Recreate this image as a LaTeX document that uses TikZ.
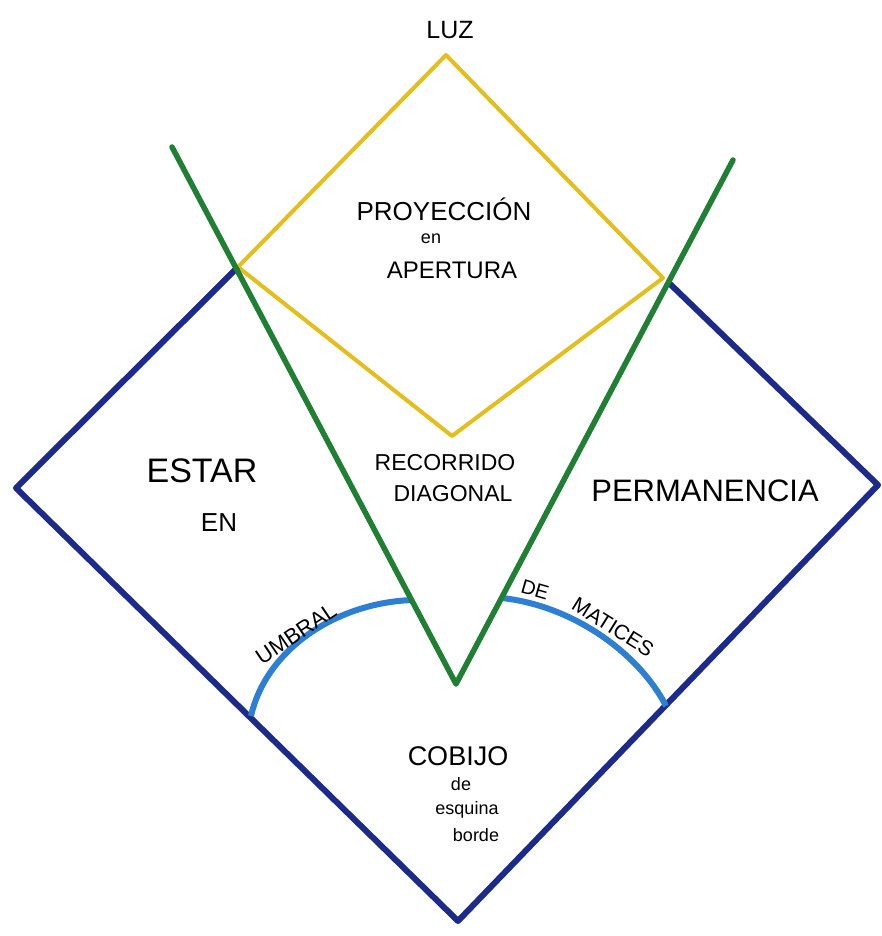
\documentclass[tikz,border=0pt]{standalone}
\usepackage{fontspec}
\setmainfont{Liberation Sans}

\definecolor{luzyellow}{HTML}{E6BE1C}
\definecolor{pathgreen}{HTML}{1F7F33}
\definecolor{wallblue}{HTML}{1C2A8C}
\definecolor{arcblue}{HTML}{2C7FD3}

\begin{document}
\begin{tikzpicture}[
        x=1pt, y=-1pt,
        lbl/.style={inner sep=0pt, align=center, font=\fontsize{#1}{#1}\selectfont},
        lbl/.default=24pt,
        luzline/.style={draw=luzyellow, line width=4pt, line join=round},
        wallline/.style={draw=wallblue, line width=6pt, line join=round},
        arcline/.style={draw=arcblue, line width=6pt},
        vline/.style={draw=pathgreen, line width=5.5pt, line join=round, line cap=round}
    ]

    \fill[white] (0,0) rectangle (882,936);
    \useasboundingbox (0,0) rectangle (882,936);

    % corners
    \coordinate (ltop) at (446,55);
    \coordinate (lright) at (663,278);
    \coordinate (lbottom) at (452,436);
    \coordinate (lleft) at (238,267);

    \coordinate (wleft) at (16,488);
    \coordinate (wbottom) at (458,921);
    \coordinate (wright) at (878,485);
    \coordinate (wtopr) at (668,282);

    \coordinate (vleft) at (172,147);
    \coordinate (vbottom) at (456,684);
    \coordinate (vright) at (733,160);

    % light diamond
    \draw[luzline] (ltop) -- (lright) -- (lbottom) -- (lleft) -- cycle;

    % shelter walls
    \draw[wallline] (lleft) -- (wleft) -- (wbottom) -- (wright) -- (wtopr);

    % threshold arcs
    \draw[arcline] (251,716) .. controls (266,650) and (335,603) .. (412,600);
    \draw[arcline] (502,598) .. controls (575,606) and (640,655) .. (666,706);

    % diagonal route
    \draw[vline] (vleft) -- (vbottom) -- (vright);

    % labels
    \node (luz) [lbl=25pt] at (450,30) {LUZ};
    \node (proy) [lbl=26pt] at (444,209) {PROYECCIÓN};
    \node (proyen) [lbl=18pt] at (431,239) {en};
    \node (aper) [lbl=24pt] at (452,270) {APERTURA};

    \node (estar) [lbl=34pt] at (202,471) {ESTAR};
    \node (estaren) [lbl=26pt] at (219,523) {EN};

    \node (reco) [lbl=23pt] at (445,463) {RECORRIDO};
    \node (diag) [lbl=23pt] at (453,494) {DIAGONAL};

    \node (perm) [lbl=31pt] at (705,491) {PERMANENCIA};

    \node (cobijo) [lbl=27pt] at (458,756) {COBIJO};
    \node (cobde) [lbl=18pt] at (461,784) {de};
    \node (cobesq) [lbl=18pt] at (467,810) {esquina};
    \node (cobbor) [lbl=18pt] at (476,835) {borde};

    % text on the arcs
    \node (umbral) [lbl=22pt, rotate=34] at (296,634) {UMBRAL};
    \node (de) [lbl=20pt, rotate=-16] at (535,590) {DE};
    \node (matices) [lbl=21pt, rotate=-32] at (613,627) {MATICES};

\end{tikzpicture}
\end{document}
